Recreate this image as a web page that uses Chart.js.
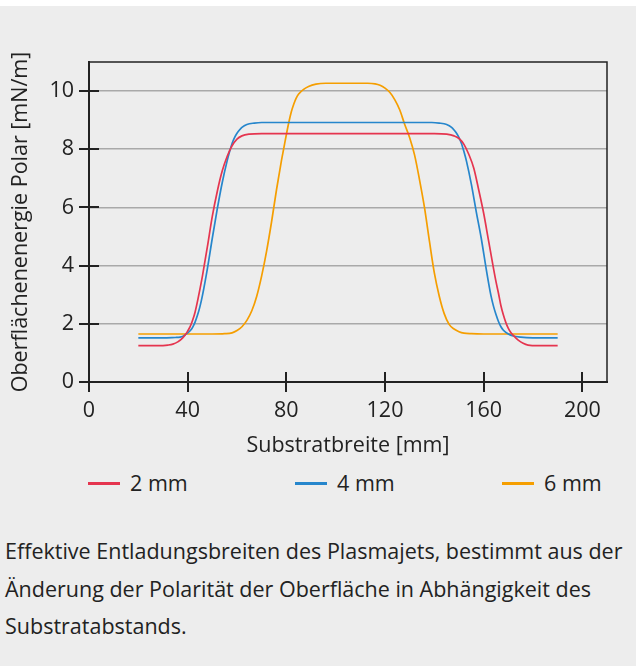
<!DOCTYPE html>
<html lang="de">
<head>
<meta charset="utf-8">
<title>Effektive Entladungsbreiten</title>
<script src="https://cdn.jsdelivr.net/npm/chart.js@4.4.1/dist/chart.umd.min.js"></script>
<style>
  html, body { margin: 0; padding: 0; }
  body {
    width: 636px; height: 666px; overflow: hidden;
    background: #ededed;
    font-family: "Open Sans", "Noto Sans", sans-serif;
    color: #222;
    position: relative;
  }
  #topband { position: absolute; left: 0; top: 0; width: 636px; height: 6px; background: #fff; }
  #chart { position: absolute; left: 0; top: 0; }
  #legend { position: absolute; left: 88px; top: 468px; display: flex; }
  .item { width: 207px; display: flex; align-items: center; font-size: 21.5px; line-height: 30px; }
  .item .swatch { width: 32px; height: 3px; margin-right: 10px; }
  #caption {
    position: absolute; left: 5px; top: 532px; margin: 0;
    font-size: 21.5px; line-height: 37.5px; white-space: nowrap;
  }
</style>
</head>
<body>
<div id="topband"></div>
<canvas id="chart" width="636" height="460"></canvas>
<div id="legend"></div>
<p id="caption">Effektive Entladungsbreiten des Plasmajets, bestimmt aus der<br>Änderung der Polarität der Oberfläche in Abhängigkeit des<br>Substratabstands.</p>
<script>
// Series (Substratbreite in mm, Polar in mN/m)
const labels = ['2 mm', '4 mm', '6 mm'];
const colors = ['#e5354f', '#2686cc', '#f59e00'];

const x2mm = [20, 28, 32, 34, 36, 38, 39, 40, 41, 42, 43, 44, 45, 46, 48, 50, 52, 54, 56, 58, 60, 62, 65, 70,
  140, 145, 148, 150, 152, 154, 156, 158, 160, 162, 164, 165, 166, 167, 168, 169, 170, 171, 172, 174, 176, 178, 182, 190];
const y2mm = [1.25, 1.25, 1.27, 1.3, 1.38, 1.52, 1.62, 1.75, 1.9, 2.12, 2.4, 2.78, 3.2, 3.65, 4.65, 5.7, 6.55, 7.25, 7.75, 8.12, 8.35, 8.46, 8.52, 8.54,
  8.54, 8.52, 8.46, 8.37, 8.17, 7.82, 7.35, 6.6, 5.8, 4.85, 3.9, 3.45, 3.05, 2.62, 2.3, 2.04, 1.84, 1.7, 1.6, 1.44, 1.33, 1.27, 1.25, 1.25];

const x4mm = [20, 30, 35, 37, 39, 41, 42, 43, 44, 45, 46, 48, 50, 52, 54, 56, 57, 58, 59, 60, 61, 62, 64, 67, 70,
  139, 142, 145, 147, 148, 149, 150, 151, 152, 153, 155, 157, 159, 161, 163, 164, 165, 166, 167, 168, 170, 172, 175, 180, 190];
const y4mm = [1.52, 1.52, 1.53, 1.54, 1.62, 1.76, 1.88, 2.06, 2.3, 2.6, 2.98, 3.9, 4.95, 5.95, 6.85, 7.6, 7.92, 8.2, 8.4, 8.55, 8.66, 8.75, 8.85, 8.9, 8.92,
  8.92, 8.9, 8.85, 8.75, 8.66, 8.55, 8.4, 8.2, 7.92, 7.6, 6.8, 5.85, 4.95, 3.9, 2.95, 2.6, 2.32, 2.08, 1.9, 1.78, 1.65, 1.58, 1.54, 1.52, 1.52];

const x6mm = [20, 50, 55, 58, 60, 62, 64, 66, 68, 70, 72, 74, 76, 77, 78, 79, 80, 81, 82, 83, 84, 85, 87, 89, 92, 96,
  113, 116, 118, 120, 122, 124, 126, 128, 130, 132, 134, 136, 138, 140, 142, 144, 146, 148, 150, 152, 155, 160, 190];
const y6mm = [1.65, 1.65, 1.66, 1.69, 1.77, 1.9, 2.12, 2.45, 2.95, 3.65, 4.5, 5.5, 6.6, 7.1, 7.6, 8.05, 8.5, 8.92, 9.28, 9.55, 9.76, 9.9, 10.06, 10.16, 10.24, 10.27,
  10.27, 10.25, 10.2, 10.1, 9.95, 9.7, 9.35, 8.85, 8.4, 7.8, 6.95, 6.0, 4.85, 3.75, 2.95, 2.35, 1.98, 1.82, 1.73, 1.68, 1.66, 1.65, 1.65];

const xTicks = [0, 40, 80, 120, 160, 200];
const yTicks = [0, 2, 4, 6, 8, 10];

const FONT = { family: '"Open Sans", "Noto Sans", sans-serif', size: 21.5 };
const INK = '#222';

function toPoints(xs, ys) {
  return xs.map((x, i) => ({ x: x, y: ys[i] }));
}

// frame around the plot plus tick marks that cross the axes
const frameTicks = {
  id: 'frameTicks',
  afterDatasetsDraw(chart) {
    const { ctx, chartArea: a, scales: { x, y } } = chart;
    ctx.save();
    ctx.strokeStyle = INK;
    ctx.lineWidth = 1.5;
    ctx.beginPath();
    ctx.moveTo(a.left, a.top);
    ctx.lineTo(a.right, a.top);
    ctx.lineTo(a.right, a.bottom);
    ctx.stroke();
    ctx.lineWidth = 2;
    ctx.beginPath();
    xTicks.forEach(v => {
      const px = Math.round(x.getPixelForValue(v));
      ctx.moveTo(px, a.bottom - 10);
      ctx.lineTo(px, a.bottom + 10);
    });
    yTicks.forEach(v => {
      const py = Math.round(y.getPixelForValue(v));
      ctx.moveTo(a.left - 10, py);
      ctx.lineTo(a.left + 10, py);
    });
    ctx.stroke();
    ctx.restore();
  }
};

const ctx = document.getElementById('chart').getContext('2d');
const chart = new Chart(ctx, {
  type: 'line',
  data: {
    datasets: [
      { label: labels[0], data: toPoints(x2mm, y2mm), borderColor: colors[0] },
      { label: labels[1], data: toPoints(x4mm, y4mm), borderColor: colors[1] },
      { label: labels[2], data: toPoints(x6mm, y6mm), borderColor: colors[2] }
    ]
  },
  options: {
    responsive: false,
    animation: false,
    devicePixelRatio: 1,
    layout: { padding: { top: 62, right: 29, left: 0, bottom: 0 } },
    elements: {
      point: { radius: 0 },
      line: { borderWidth: 1.7, cubicInterpolationMode: 'monotone', fill: false }
    },
    plugins: {
      legend: { display: false },
      tooltip: { enabled: false }
    },
    scales: {
      x: {
        type: 'linear',
        min: 0,
        max: 210,
        afterBuildTicks: s => { s.ticks = xTicks.map(v => ({ value: v })); },
        afterFit: s => { s.height = 78; },
        grid: { drawOnChartArea: false, drawTicks: false },
        border: { color: INK, width: 2 },
        ticks: { font: FONT, color: INK, padding: 16, maxRotation: 0 },
        title: { display: true, text: 'Substratbreite [mm]', font: FONT, color: INK, padding: { top: 2, bottom: 1 } }
      },
      y: {
        min: 0,
        max: 11,
        afterBuildTicks: s => { s.ticks = yTicks.map(v => ({ value: v })); },
        afterFit: s => { s.width = 89; },
        grid: {
          drawTicks: false,
          color: c => (c.tick && c.tick.value === 0) ? 'rgba(0,0,0,0)' : '#a9a9a9',
          lineWidth: 1.6
        },
        border: { color: INK, width: 2 },
        ticks: { font: FONT, color: INK, padding: 15 },
        title: { display: true, text: 'Oberflächenenergie Polar [mN/m]', font: FONT, color: INK, padding: { top: 8, bottom: 0 } }
      }
    }
  },
  plugins: [frameTicks]
});

// legend as plain HTML, spread across the plot width like the original
const legend = document.getElementById('legend');
chart.data.datasets.forEach(ds => {
  const item = document.createElement('div');
  item.className = 'item';
  const sw = document.createElement('span');
  sw.className = 'swatch';
  sw.style.background = ds.borderColor;
  const txt = document.createElement('span');
  txt.textContent = ds.label;
  item.appendChild(sw);
  item.appendChild(txt);
  legend.appendChild(item);
});
</script>
</body>
</html>
